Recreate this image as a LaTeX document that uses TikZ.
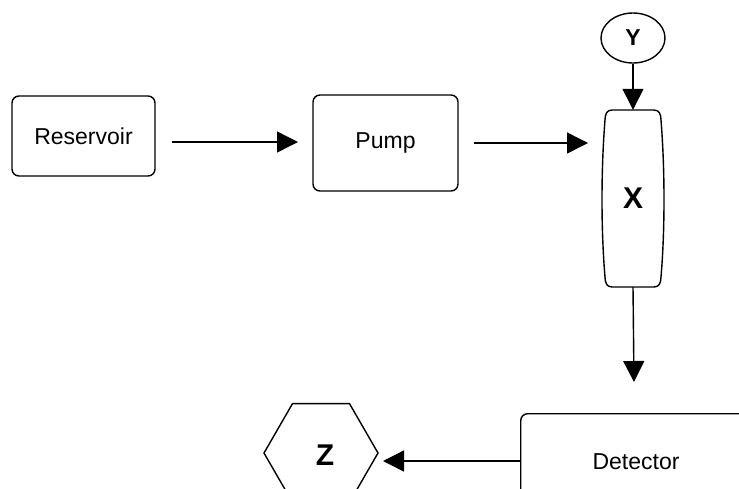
\documentclass[tikz,border=0pt]{standalone}
\usepackage{fontspec}
\setmainfont{Liberation Sans}
\usetikzlibrary{arrows.meta,shapes.geometric}
\tikzset{
  box/.style={draw, line width=1.4pt, rounded corners=7pt, inner sep=0pt, font=\fontsize{23}{26}\selectfont},
  flow/.style={line width=1.4pt, -{Triangle[length=21pt,width=21pt]}},
  bold/.style={font=\bfseries\fontsize{30}{34}\selectfont},
}
\begin{document}
\begin{tikzpicture}[x=1pt,y=-1pt]
\useasboundingbox (0,0) rectangle (739,488);
\node[box, minimum width=143pt, minimum height=80pt] (res) at (83.5,136) {Reservoir};
\node[box, minimum width=145pt, minimum height=96pt] (pump) at (385.5,143) {Pump};
\node[inner sep=0pt, minimum width=58pt, minimum height=177pt, bold] (X) at (633,198.5) {X};
\draw[line width=1.4pt] (612,110) -- (654,110) .. controls (659,110) and (661,114) .. (661,120)
  .. controls (665,170) and (665,230) .. (661,277) .. controls (661,283) and (659,287) .. (654,287)
  -- (612,287) .. controls (607,287) and (605,283) .. (605,277)
  .. controls (601,230) and (601,170) .. (605,120) .. controls (605,114) and (607,110) .. (612,110) -- cycle;
\node[draw, ellipse, line width=1.4pt, minimum width=64pt, minimum height=50pt, inner sep=0pt, font=\bfseries\fontsize{23}{26}\selectfont] (Y) at (633,38) {Y};
\node[box, minimum width=240pt, minimum height=100pt, anchor=north west] (det) at (520,413) {};
\node[font=\fontsize{23}{26}\selectfont] (dettext) at (636,462) {Detector};
\node[draw, regular polygon, regular polygon sides=6, shape border rotate=0, line width=1.4pt, minimum size=114pt, inner sep=0pt] (Z) at (321,453) {};
\node[bold] (Ztext) at (325,455) {Z};
\coordinate (a1s) at (172,142);
\coordinate (a1e) at (298,142);
\draw[flow] (a1s) -- (a1e);
\coordinate (a2s) at (474,143);
\coordinate (a2e) at (588,143);
\draw[flow] (a2s) -- (a2e);
\draw[flow] (Y.south) -- (X.north);
\coordinate (a3e) at (634,382);
\draw[flow] (X.south) -- (a3e);
\coordinate (a4s) at (520,461);
\coordinate (a4e) at (383,461);
\draw[flow] (a4s) -- (a4e);
\end{tikzpicture}
\end{document}
